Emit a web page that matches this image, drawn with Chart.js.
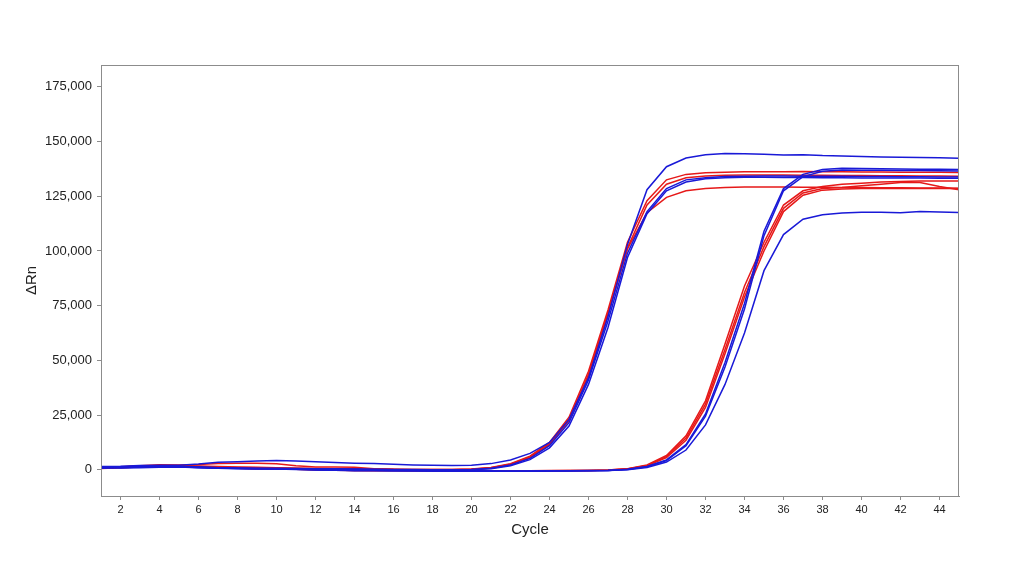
<!DOCTYPE html>
<html>
<head>
<meta charset="utf-8">
<script src="https://cdn.jsdelivr.net/npm/chart.js@4/dist/chart.umd.min.js"></script>
<style>
  html, body { margin: 0; padding: 0; background: #fff; }
  #wrap { width: 1024px; height: 566px; }
</style>
</head>
<body>
<div id="wrap"><canvas id="chart" width="1024" height="566"></canvas></div>
<script>
const cycles = [];
for (let i = 1; i <= 45; i++) cycles.push(i);

const xTicks = [2, 4, 6, 8, 10, 12, 14, 16, 18, 20, 22, 24, 26, 28, 30, 32, 34, 36, 38, 40, 42, 44];
const yTicks = [0, 25000, 50000, 75000, 100000, 125000, 150000, 175000];

// early amplification (Ct ~ 25)
const earlyBlue1 = [1500, 1600, 1900, 2000, 2100, 2600, 3400, 3700, 4000, 4200,
  4000, 3700, 3300, 3000, 2800, 2500, 2200, 2000, 1900, 2100,
  2800, 4500, 7500, 12500, 23000, 42000, 70000, 103000, 128000, 138500,
  142500, 144000, 144600, 144400, 144200, 143900, 144000, 143600, 143400, 143200,
  143000, 142800, 142700, 142600, 142400];
const earlyBlue2 = [1000, 1100, 1300, 1500, 1400, 1000, 800, 700, 700, 700,
  600, 500, 400, 300, 200, 100, 100, 0, 0, 100,
  700, 2200, 5200, 11000, 21500, 41000, 68000, 99000, 118000, 128500,
  132500, 133500, 134000, 134200, 134300, 134300, 134200, 134200, 134100, 134000,
  134000, 133900, 133900, 133800, 133800];
const earlyBlue3 = [1200, 800, 900, 1100, 1300, 1200, 900, 700, 600, 500,
  400, 300, 200, 200, 100, 0, 0, -100, -100, 0,
  500, 1800, 4600, 10000, 20000, 39000, 65000, 97000, 117000, 127500,
  131500, 133000, 133500, 133700, 133700, 133600, 133600, 133500, 133500, 133400,
  133400, 133300, 133300, 133200, 133200];
const earlyRed1 = [800, 1200, 1800, 2300, 2200, 2400, 2800, 3000, 3000, 2700,
  1800, 1200, 1300, 1100, 500, 200, 100, 100, 100, 300,
  1000, 2800, 6200, 12500, 24000, 45000, 73000, 104000, 123000, 132500,
  135000, 135800, 136000, 136200, 136200, 136200, 136300, 136200, 136200, 136100,
  136100, 136000, 136000, 136000, 135900];
const earlyRed2 = [1300, 1400, 1600, 1800, 1700, 1500, 1200, 1000, 900, 800,
  700, 600, 500, 400, 300, 200, 100, 100, 100, 200,
  900, 2500, 5800, 12000, 23000, 43500, 71500, 101500, 121000, 130500,
  133500, 134300, 134600, 134700, 134700, 134700, 134600, 134600, 134500, 134500,
  134400, 134400, 134300, 134300, 134200];
const earlyRed3 = [600, 900, 1300, 1700, 1900, 1700, 1500, 1300, 1100, 900,
  700, 500, 400, 300, 200, 100, 0, 0, 0, 200,
  800, 2400, 5600, 11500, 22500, 43000, 71000, 101000, 117500, 124500,
  127500, 128500, 129000, 129200, 129200, 129200, 129100, 129100, 129000, 129000,
  128900, 128900, 128800, 128800, 128700];

// late amplification (Ct ~ 33)
const lateBlue1 = [1000, 1100, 1300, 1400, 1300, 1000, 800, 600, 500, 400,
  200, 0, -200, -300, -400, -500, -500, -500, -600, -600,
  -600, -600, -600, -500, -500, -400, -300, 200, 1500, 4500,
  11500, 25500, 49000, 76000, 109000, 128500, 135000, 137200, 137800, 137700,
  137600, 137500, 137400, 137300, 137200];
const lateBlue2 = [1400, 1300, 1400, 1600, 1500, 1200, 900, 700, 500, 400,
  300, 100, -100, -300, -400, -400, -500, -600, -600, -600,
  -600, -700, -600, -600, -500, -500, -300, 100, 1400, 4200,
  11000, 24500, 47000, 73500, 107000, 127500, 134000, 136400, 137000, 136900,
  136900, 136800, 136800, 136700, 136600];
const lateBlue3 = [700, 900, 1200, 1300, 1200, 900, 700, 500, 400, 300,
  100, -100, -200, -300, -400, -500, -500, -600, -600, -600,
  -700, -700, -700, -600, -600, -500, -400, 0, 1000, 3500,
  9000, 20500, 39000, 62500, 91000, 107500, 114500, 116500, 117300, 117700,
  117700, 117500, 118000, 117800, 117600];
const lateRed1 = [900, 1100, 1400, 1600, 1500, 1200, 900, 700, 500, 400,
  200, 0, -200, -300, -400, -400, -500, -500, -500, -500,
  -500, -500, -500, -400, -400, -300, -100, 500, 2200, 6500,
  15500, 31500, 57500, 84000, 104000, 121000, 127500, 129500, 130500, 131000,
  131500, 131800, 132000, 132000, 132000];
const lateRed2 = [1100, 1300, 1600, 1900, 1800, 1400, 1000, 800, 600, 500,
  300, 100, -100, -200, -300, -400, -400, -500, -500, -500,
  -500, -500, -500, -500, -400, -300, -100, 400, 2000, 6000,
  14500, 30000, 55000, 81000, 102000, 119500, 126500, 128500, 129000, 129800,
  130500, 131300, 131300, 129500, 128000];
const lateRed3 = [800, 1000, 1200, 1400, 1400, 1100, 900, 700, 500, 400,
  200, 0, -100, -300, -400, -400, -500, -500, -600, -600,
  -600, -600, -600, -500, -500, -400, -200, 300, 1800, 5500,
  13500, 28500, 53000, 79000, 100000, 118000, 125500, 127800, 128300, 128500,
  128500, 128600, 128600, 128600, 128600];

const BLUE = 'rgb(25, 25, 215)';
const RED = 'rgb(230, 25, 25)';
const AXIS = '#8c8c8c';
const FONT = "'Liberation Sans', Arial, sans-serif";

// blues listed first so they sit on top
const series = [
  { values: earlyBlue1, color: BLUE },
  { values: earlyBlue2, color: BLUE },
  { values: earlyBlue3, color: BLUE },
  { values: lateBlue1, color: BLUE },
  { values: lateBlue2, color: BLUE },
  { values: lateBlue3, color: BLUE },
  { values: earlyRed1, color: RED },
  { values: earlyRed2, color: RED },
  { values: earlyRed3, color: RED },
  { values: lateRed1, color: RED },
  { values: lateRed2, color: RED },
  { values: lateRed3, color: RED }
];

const frame = {
  id: 'frame',
  afterDraw: (chart) => {
    const { ctx, chartArea: a } = chart;
    ctx.save();
    ctx.strokeStyle = AXIS;
    ctx.lineWidth = 1;
    ctx.strokeRect(a.left + 0.5, a.top + 0.5, a.right - a.left - 1, a.bottom - a.top);
    ctx.restore();
  }
};

new Chart(document.getElementById('chart').getContext('2d'), {
  type: 'line',
  data: {
    datasets: series.map(s => ({
      data: cycles.map((c, i) => ({ x: c, y: s.values[i] })),
      borderColor: s.color,
      borderWidth: 1.5,
      pointRadius: 0,
      tension: 0,
      fill: false
    }))
  },
  options: {
    responsive: false,
    animation: false,
    layout: { padding: { left: 0, right: 65, top: 65, bottom: 0 } },
    plugins: { legend: { display: false }, tooltip: { enabled: false } },
    scales: {
      x: {
        type: 'linear',
        min: 1,
        max: 45,
        afterBuildTicks: (axis) => { axis.ticks = xTicks.map(v => ({ value: v })); },
        afterFit: (axis) => { axis.height = 70; },
        grid: { drawOnChartArea: false, drawTicks: true, tickLength: 4, color: AXIS },
        border: { color: AXIS },
        ticks: { color: '#222', font: { family: FONT, size: 11 }, padding: 3, maxRotation: 0 },
        title: {
          display: true,
          text: 'Cycle',
          color: '#222',
          font: { family: FONT, size: 15 },
          padding: { top: 0, bottom: 27 }
        }
      },
      y: {
        min: -12000,
        max: 185000,
        afterBuildTicks: (axis) => { axis.ticks = yTicks.map(v => ({ value: v })); },
        afterFit: (axis) => { axis.width = 101; },
        grid: { drawOnChartArea: false, drawTicks: true, tickLength: 4, color: AXIS },
        border: { color: AXIS },
        ticks: {
          color: '#222',
          font: { family: FONT, size: 13 },
          padding: 5,
          callback: (v) => v.toLocaleString('en-US')
        },
        title: {
          display: true,
          text: 'ΔRn',
          color: '#222',
          font: { family: FONT, size: 15 },
          padding: { top: 23, bottom: 0 }
        }
      }
    }
  },
  plugins: [frame]
});
</script>
</body>
</html>
